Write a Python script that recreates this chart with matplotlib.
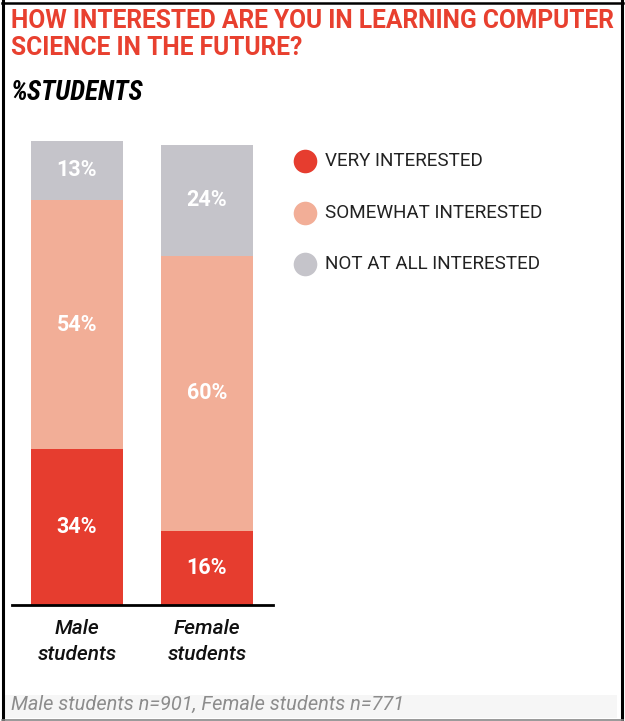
import matplotlib.pyplot as plt
from matplotlib.patches import Rectangle
from matplotlib.lines import Line2D

groups = ["Male\nstudents", "Female\nstudents"]
levels = ["VERY INTERESTED", "SOMEWHAT INTERESTED", "NOT AT ALL INTERESTED"]
very = [34, 16]
somewhat = [54, 60]
not_at_all = [13, 24]
colors = ["#e63d2f", "#f2ae97", "#c5c4ca"]
red_title = "#e8402f"

W, H = 625, 721
fig = plt.figure(figsize=(W / 100, H / 100), dpi=100)

def fx(px):
    return px / W

def fy(py):
    return 1 - py / H

# frame and footer band
fig.patches.append(Rectangle((fx(3), fy(718)), fx(614), 23 / H, transform=fig.transFigure,
                             facecolor="#f6f6f6", edgecolor="none", zorder=0))
fig.add_artist(Line2D([fx(2.5), fx(2.5)], [fy(1), fy(720)], color="black", lw=2.2))
fig.add_artist(Line2D([fx(2), fx(623)], [fy(2.5), fy(2.5)], color="black", lw=1.8))
fig.add_artist(Line2D([fx(622), fx(622)], [fy(1), fy(720)], color="black", lw=2.2))
fig.add_artist(Line2D([fx(2), fx(623)], [fy(719.5), fy(719.5)], color="#888888", lw=1.2))

ax = fig.add_axes([fx(12), fy(605), fx(261), 475 / H])
x = [0, 1]
width = 0.715
stacks = [very, somewhat, not_at_all]
bottom = [0, 0]
for vals, c in zip(stacks, colors):
    ax.bar(x, vals, width=width, bottom=bottom, color=c, edgecolor="none", zorder=2)
    for i, v in enumerate(vals):
        ax.text(x[i], bottom[i] + v / 2, f"{v}%", ha="center", va="center",
                color="white", fontsize=15.5, fontweight="bold", family="Roboto")
    bottom = [b + v for b, v in zip(bottom, vals)]

ax.set_xlim(-0.5, 1.508)
ax.set_ylim(0, 103.3)
ax.set_xticks(x)
ax.set_xticklabels(groups, fontsize=15, style="italic", fontweight="medium",
                   family="Roboto", linespacing=1.45, color="#111111")
ax.tick_params(axis="x", length=0, pad=10)
ax.set_yticks([])
for s in ["top", "right", "left"]:
    ax.spines[s].set_visible(False)
ax.spines["bottom"].set_linewidth(2)
ax.patch.set_alpha(0)

# title block
fig.text(fx(11), fy(21), "HOW INTERESTED ARE YOU IN LEARNING COMPUTER", color=red_title,
         fontsize=17.7, fontweight="bold", family="Roboto", va="center", ha="left")
fig.text(fx(11), fy(48), "SCIENCE IN THE FUTURE?", color=red_title,
         fontsize=17.7, fontweight="bold", family="Roboto", va="center", ha="left")
fig.text(fx(11), fy(92), "%STUDENTS", color="black", fontsize=19.5, fontweight="bold",
         style="italic", family="Roboto Condensed", va="center", ha="left")

# legend
for k, (lab, c) in enumerate(zip(levels, colors)):
    yy = 161 + k * 51.5
    fig.add_artist(Line2D([fx(305)], [fy(yy)], marker="o", markersize=17,
                          markerfacecolor=c, markeredgecolor="none", linestyle="none"))
    fig.text(fx(325), fy(yy), lab, fontsize=13.6, family="Roboto", color="#222222",
             va="center", ha="left")

fig.text(fx(11), fy(704), "Male students n=901, Female students n=771", fontsize=14.4,
         style="italic", family="Roboto", color="#8c8c8c", va="center", ha="left")

fig.savefig("out.png", dpi=100)
